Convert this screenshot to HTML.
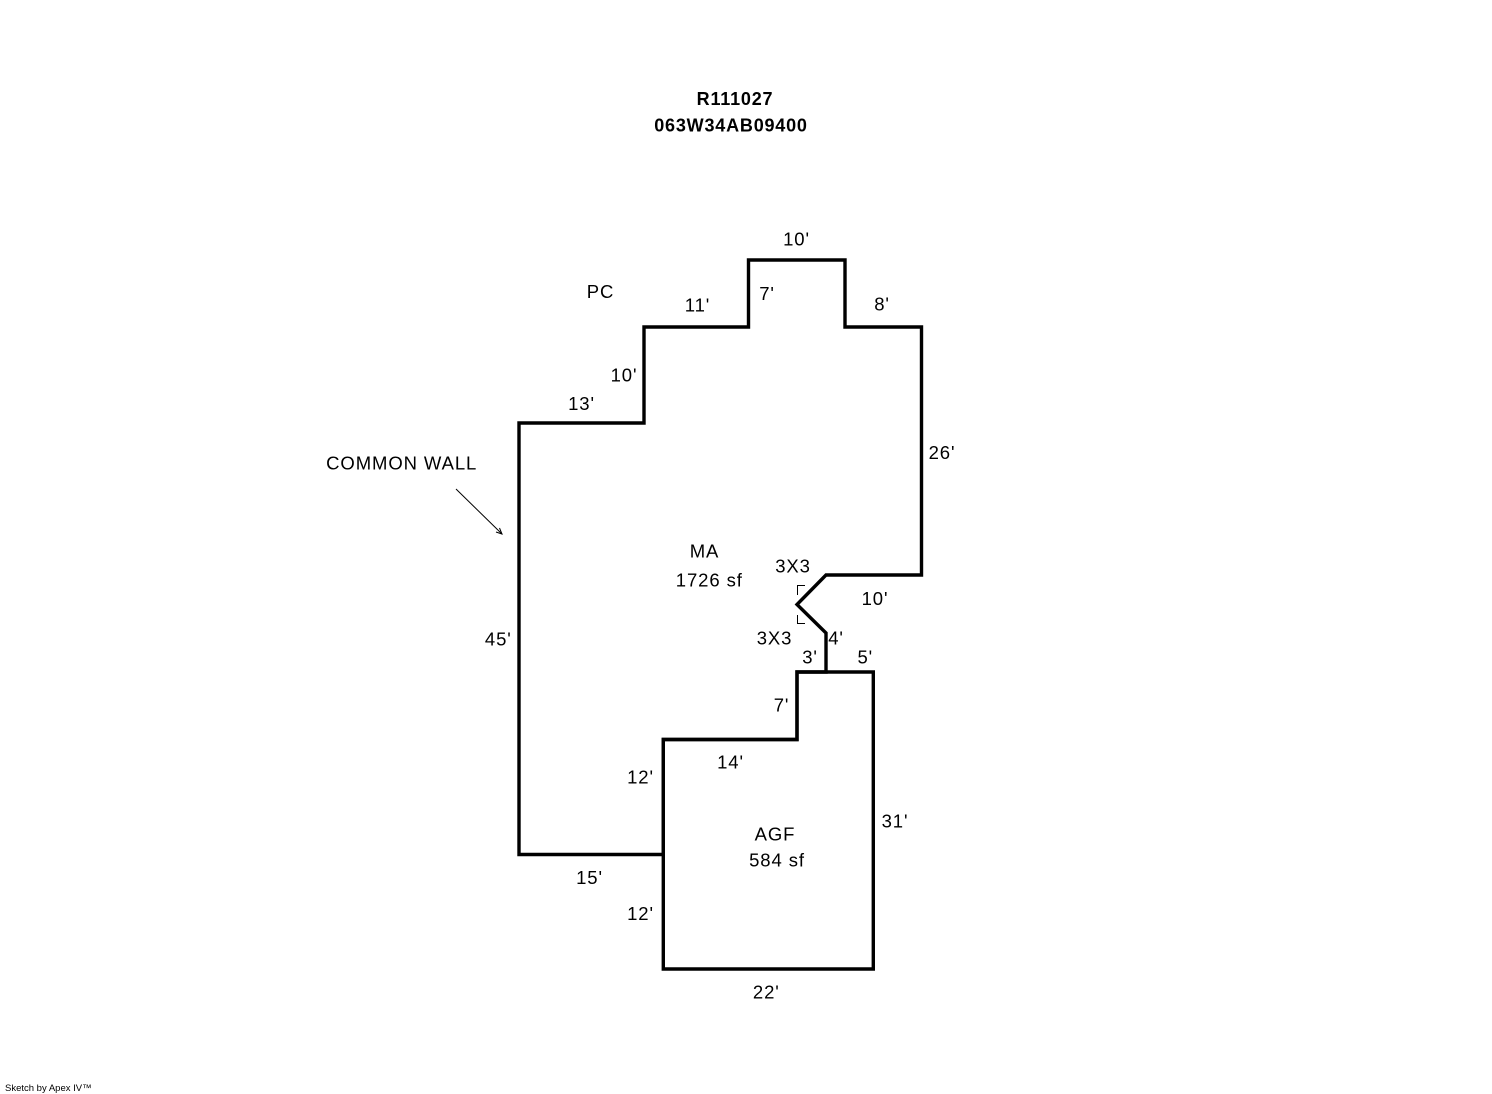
<!DOCTYPE html>
<html>
<head>
<meta charset="utf-8">
<style>
  html, body { margin: 0; padding: 0; background: #fff; }
  body { width: 1492px; height: 1094px; overflow: hidden; }
  svg { display: block; }
  text { font-family: "Liberation Sans", Arial, sans-serif; font-size: 18.5px; fill: #000; letter-spacing: 0.9px; }
  .b { font-weight: bold; font-size: 18px; letter-spacing: 0.8px; }
</style>
</head>
<body>
<svg width="1492" height="1094" viewBox="0 0 1492 1094" xmlns="http://www.w3.org/2000/svg">
  <rect width="1492" height="1094" fill="#fff"/>

  <!-- MA outline -->
  <path d="M519,423 L644,423 L644,327 L748.5,327 L748.5,260 L845,260 L845,327 L921.5,327 L921.5,575 L826,575 L797,604.5 L826,633 L826,672 L797,672 L797,739.5 L663.3,739.5 L663.3,854.5 L519,854.5 Z"
        fill="none" stroke="#000" stroke-width="3.4" stroke-linejoin="miter"/>
  <!-- AGF outline -->
  <path d="M797,672 L873.3,672 L873.3,969 L663.3,969 L663.3,739.5 L797,739.5 Z"
        fill="none" stroke="#000" stroke-width="3.4" stroke-linejoin="miter"/>

  <!-- angle brackets -->
  <path d="M805,585.5 L797.5,585.5 L797.5,595" fill="none" stroke="#000" stroke-width="1"/>
  <path d="M797.5,615 L797.5,623.5 L805,623.5" fill="none" stroke="#000" stroke-width="1"/>

  <!-- common wall arrow -->
  <line x1="456" y1="489" x2="502" y2="534" stroke="#000" stroke-width="1"/>
  <path d="M496,532 L502,534 L499.5,528" fill="none" stroke="#000" stroke-width="1"/>

  <!-- titles -->
  <text class="b" x="735" y="105" text-anchor="middle">R111027</text>
  <text class="b" x="731" y="131.7" text-anchor="middle">063W34AB09400</text>

  <!-- labels -->
  <text x="796.5" y="245.5" text-anchor="middle">10'</text>
  <text x="600.5" y="298" text-anchor="middle">PC</text>
  <text x="697.5" y="311.5" text-anchor="middle">11'</text>
  <text x="767" y="300" text-anchor="middle">7'</text>
  <text x="882" y="310.5" text-anchor="middle">8'</text>
  <text x="624" y="381.5" text-anchor="middle">10'</text>
  <text x="581.5" y="410" text-anchor="middle">13'</text>
  <text x="401.7" y="469.3" text-anchor="middle">COMMON WALL</text>
  <text x="942" y="459" text-anchor="middle">26'</text>
  <text x="704.5" y="557.7" text-anchor="middle">MA</text>
  <text x="709.3" y="586.7" text-anchor="middle">1726 sf</text>
  <text x="793" y="572.7" text-anchor="middle">3X3</text>
  <text x="875" y="605" text-anchor="middle">10'</text>
  <text x="774.5" y="644.3" text-anchor="middle">3X3</text>
  <text x="836" y="644.3" text-anchor="middle">4'</text>
  <text x="810" y="663.3" text-anchor="middle">3'</text>
  <text x="865.3" y="663.3" text-anchor="middle">5'</text>
  <text x="498.3" y="645.7" text-anchor="middle">45'</text>
  <text x="781.5" y="711.7" text-anchor="middle">7'</text>
  <text x="730.5" y="768.3" text-anchor="middle">14'</text>
  <text x="640.5" y="783.3" text-anchor="middle">12'</text>
  <text x="895" y="827.3" text-anchor="middle">31'</text>
  <text x="775" y="840.7" text-anchor="middle">AGF</text>
  <text x="777" y="866.7" text-anchor="middle">584 sf</text>
  <text x="589.5" y="884" text-anchor="middle">15'</text>
  <text x="640.5" y="920" text-anchor="middle">12'</text>
  <text x="766.3" y="998.3" text-anchor="middle">22'</text>

  <text x="5" y="1091" style="font-size:9.5px;letter-spacing:0">Sketch by Apex IV™</text>
</svg>
</body>
</html>
